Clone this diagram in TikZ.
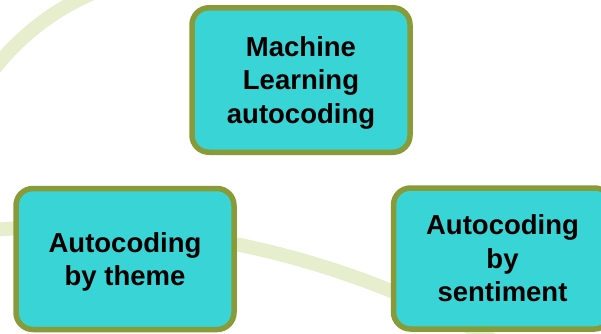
\documentclass[tikz,border=0pt]{standalone}
\usepackage{fontspec}
\setmainfont{Liberation Sans}
\definecolor{boxfill}{RGB}{57,213,214}
\definecolor{boxline}{RGB}{137,155,56}
\definecolor{arcgreen}{RGB}{230,238,206}
\begin{document}
\begin{tikzpicture}[x=1pt,y=-1pt,
  stepbox/.style={draw=boxline, fill=boxfill, line width=5.5pt, rounded corners=17pt,
    minimum width=218pt, minimum height=141pt, inner sep=0pt, align=center,
    text depth=0pt,
    font=\bfseries\fontsize{27.5}{33.5}\selectfont, text=black},
  ring/.style={draw=arcgreen, line width=14pt}]
\useasboundingbox (0,0) rectangle (601,333);
\clip (0,0) rectangle (601,333);
% background ring arcs
\draw[ring] ([shift={(64,1097)}] -96:870) arc[start angle=-96, end angle=-55, radius=870];
\draw[ring] ([shift={(191,223)}] -110:250) arc[start angle=-110, end angle=-150, radius=250];
% boxes
\node[stepbox, minimum height=144.5pt] (ml) at (301,80) {Machine\\Learning\\autocoding};
\node[stepbox] (theme) at (125,259) {Autocoding\\by theme};
\node[stepbox] (sent) at (502.5,258.5) {Autocoding\\by\\sentiment};
\end{tikzpicture}
\end{document}
